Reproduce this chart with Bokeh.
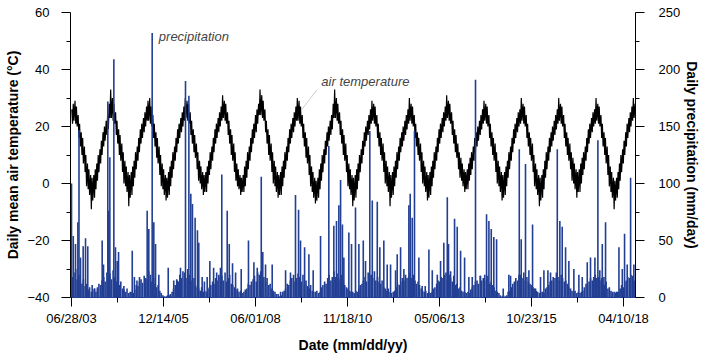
import pandas as pd
from bokeh.plotting import figure
from bokeh.models import Range1d, LinearAxis, FixedTicker, DatetimeTickFormatter, Label
from bokeh.embed import file_html
from bokeh.resources import INLINE

# ---------------- data ----------------
START = "2003-06-28"

# daily mean air temperature (degC) on the 1st, 8th, 15th and 22nd of each month; rows run Jul..Jun
temp_rows = [
    [26, 21, 28, 22, 29, 21, 27, 20, 24, 16, 21, 13, 18, 10, 16, 7, 13, 4, 10, -1, 7, -2, 5, -4,
     3, -9, 2, -6, 3, -5, 5, -2, 7, 1, 10, 4, 12, 7, 15, 10, 18, 13, 20, 15, 22, 17, 24, 19],
    [28, 23, 33, 23, 30, 22, 28, 21, 25, 17, 22, 14, 19, 10, 17, 8, 14, 4, 11, 0, 8, -1, 6, -3,
     4, -8, 3, -5, 4, -4, 6, -1, 8, 2, 11, 5, 13, 8, 16, 11, 19, 14, 21, 16, 23, 18, 25, 20],
    [27, 22, 29, 22, 30, 21, 27, 20, 24, 16, 21, 13, 18, 9, 16, 7, 13, 3, 10, -1, 7, -2, 5, -4,
     3, -6, 2, -5, 4, -4, 6, -1, 8, 2, 11, 5, 13, 8, 16, 11, 19, 14, 21, 16, 23, 18, 25, 20],
    [27, 22, 30, 23, 29, 22, 28, 21, 25, 17, 22, 14, 19, 11, 17, 9, 14, 5, 11, 1, 8, 0, 6, -2,
     4, -4, 3, -3, 4, -3, 6, 0, 8, 3, 11, 5, 13, 8, 16, 11, 19, 14, 21, 16, 23, 18, 25, 20],
    [27, 22, 31, 23, 29, 22, 28, 21, 25, 17, 22, 14, 19, 10, 17, 8, 14, 4, 11, 1, 7, -1, 5, -2,
     3, -4, 2, -3, 3, -3, 6, -1, 8, 2, 11, 5, 13, 8, 16, 11, 19, 14, 21, 16, 24, 18, 26, 21],
    [28, 24, 33, 24, 31, 23, 29, 22, 26, 18, 22, 14, 19, 10, 17, 8, 14, 4, 11, 0, 8, -1, 6, -3,
     4, -5, 3, -4, 4, -4, 6, -1, 8, 2, 11, 5, 13, 8, 16, 11, 19, 14, 21, 16, 23, 18, 25, 20],
    [27, 22, 30, 22, 29, 21, 27, 20, 24, 16, 21, 13, 18, 9, 16, 7, 13, 3, 10, -1, 6, -3, 4, -5,
     2, -7, 1, -6, 2, -5, 5, -2, 7, 1, 10, 4, 12, 7, 15, 10, 18, 13, 20, 15, 22, 17, 24, 19],
    [28, 23, 33, 23, 30, 22, 28, 21, 25, 17, 22, 14, 19, 10, 17, 8, 14, 4, 10, -1, 7, -2, 5, -4,
     3, -8, 2, -6, 3, -5, 5, -2, 7, 1, 10, 4, 12, 7, 15, 10, 18, 13, 20, 15, 22, 17, 24, 19],
    [26, 21, 29, 22, 28, 21, 27, 20, 24, 16, 21, 13, 18, 10, 16, 8, 14, 4, 11, 0, 8, -1, 6, -3,
     4, -8, 3, -5, 4, -4, 6, -1, 8, 2, 11, 5, 13, 8, 16, 11, 18, 13, 20, 15, 22, 17, 24, 19],
    [26, 21, 30, 22, 28, 21, 27, 20, 24, 16, 21, 13, 18, 10, 16, 8, 14, 4, 11, 0, 8, -1, 6, -3,
     4, -6, 3, -5, 4, -4, 6, -1, 8, 2, 11, 5, 13, 8, 16, 11, 19, 14, 21, 16, 23, 18, 25, 20],
    [27, 22, 31, 23, 29, 22, 28, 21, 25, 17, 22, 14, 19, 11, 17, 9, 14, 5, 11, 2, 9, 1, 7, -1,
     5, -3, 4, -2, 5, -2, 7, 1, 9, 3, 11, 5, 13, 8, 16, 11, 18, 13, 20, 15, 22, 17, 24, 19],
    [26, 21, 29, 22, 28, 21, 27, 20, 24, 16, 21, 13, 18, 10, 16, 8, 14, 4, 11, 0, 8, -1, 6, -3,
     4, -6, 3, -5, 4, -4, 6, -1, 8, 2, 11, 5, 13, 8, 16, 11, 19, 14, 21, 16, 23, 18, 25, 20],
    [26, 21, 30, 22, 28, 21, 27, 20, 24, 16, 21, 13, 18, 10, 16, 8, 14, 4, 10, -1, 7, -2, 5, -4,
     3, -8, 2, -6, 3, -5, 5, -2, 8, 2, 11, 5, 13, 8, 16, 11, 18, 13, 20, 15, 22, 17, 24, 19],
    [26, 21, 30, 22, 28, 21, 27, 20, 24, 16, 21, 13, 18, 10, 16, 8, 14, 5, 11, 1, 9, 0, 7, -2,
     5, -5, 4, -3, 5, -3, 7, 0, 9, 3, 11, 5, 13, 8, 16, 11, 19, 14, 21, 16, 23, 18, 25, 20],
    [26, 21, 30, 22, 28, 21, 27, 20, 24, 16, 21, 13, 18, 10, 16, 7, 13, 3, 10, -1, 6, -3, 4, -5,
     2, -9, 1, -6, 2, -5, 4, -2, 7, 1, 10, 4, 12, 7, 15, 10, 18, 13, 21, 16, 23, 18, 25, 20],
]
temp_tail = [27, 22, 30, 23, 28]

# larger precipitation events: day offset from START, mm/day
precip_day = [0, 17, 39, 62, 73, 88, 114, 137, 159, 202, 225, 254, 300, 313, 355, 365, 375, 414, 430, 447,
              460, 512, 594, 615, 640, 665, 740, 756, 789, 805, 822, 854, 946, 968, 1000, 1034, 1066, 1115,
              1148, 1167, 1183, 1209, 1232, 1245, 1278, 1300, 1327, 1353, 1390, 1420, 1457, 1470, 1523,
              1543, 1575, 1605, 1660, 1731, 1784, 1817, 1856, 1871, 1898, 1963, 2045, 2094, 2142, 2191,
              2221, 2240, 2280, 2322, 2364, 2436, 2517, 2566, 2592, 2615, 2632, 2650, 2664, 2713, 2739,
              2778, 2811, 2854, 2876, 2918, 2942, 2991, 3016, 3055, 3088, 3121, 3170, 3186, 3219, 3251,
              3300, 3313, 3333, 3355, 3398, 3430, 3460, 3496, 3529, 3578, 3610, 3642, 3676, 3688, 3708,
              3747, 3773, 3806, 3845, 3887, 3920, 3952, 4001, 4060, 4083, 4106, 4131, 4158, 4223, 4278,
              4295, 4380, 4399, 4441, 4474, 4510, 4539, 4588, 4621, 4660, 4686, 4752, 4777, 4800, 4833,
              4865, 4914, 4963, 4996, 5045, 5077, 5120, 5149, 5168, 5192, 5208, 5224, 5290, 5329, 5355,
              5388, 5410, 5436, 5469, 5501]
precip_mm = [100, 54, 47, 66, 147, 35, 45, 52, 45, 11, 8, 8, 50, 29, 172, 76, 123, 209, 44, 32,
             40, 10, 41, 18, 15, 18, 76, 60, 232, 66, 47, 20, 26, 3, 15, 15, 26, 190,
             177, 91, 82, 70, 59, 48, 18, 14, 18, 32, 26, 22, 26, 108, 76,
             47, 30, 22, 25, 50, 31, 26, 106, 40, 29, 29, 5, 24, 22, 90,
             77, 50, 44, 38, 24, 54, 133, 63, 67, 81, 103, 64, 35, 57, 47,
             79, 47, 50, 32, 146, 85, 84, 44, 50, 29, 29, 24, 38, 44, 25,
             81, 91, 70, 146, 35, 10, 10, 42, 24, 20, 32, 48, 88, 47, 23,
             69, 62, 41, 35, 18, 18, 191, 19, 73, 67, 60, 53, 51, 8, 20,
             19, 130, 51, 117, 24, 64, 8, 18, 24, 24, 22, 130, 67, 62, 44,
             32, 25, 20, 18, 31, 35, 35, 138, 24, 47, 18, 66, 3, 5, 44,
             25, 56, 29, 105, 29]

# smaller daily precipitation (mm/day) on the 8th and 22nd of each month, rows Jul..Jun
carpet_rows = [
    [18, 22, 25, 16, 20, 14, 12, 16, 10, 12, 7, 9, 5, 7, 8, 5, 9, 12, 11, 15, 18, 14, 22, 17],
    [21, 16, 24, 18, 14, 19, 11, 14, 8, 7, 5, 8, 4, 5, 5, 4, 7, 11, 10, 14, 16, 13, 19, 17],
    [16, 23, 20, 14, 17, 12, 9, 11, 6, 4, 2, 1, 1, 2, 2, 1, 5, 8, 11, 16, 14, 20, 17, 23],
    [22, 17, 25, 20, 15, 14, 17, 11, 9, 8, 6, 9, 5, 6, 5, 8, 9, 11, 14, 12, 17, 15, 20, 18],
    [19, 15, 22, 14, 17, 20, 12, 11, 9, 7, 8, 5, 6, 4, 5, 7, 8, 12, 11, 14, 16, 19, 14, 22],
    [20, 23, 15, 18, 14, 17, 11, 12, 8, 6, 5, 3, 3, 1, 2, 5, 6, 8, 12, 11, 15, 17, 20, 14],
    [17, 21, 18, 14, 20, 12, 15, 10, 8, 11, 6, 5, 5, 6, 4, 5, 9, 11, 14, 12, 17, 20, 15, 18],
    [23, 18, 21, 17, 15, 20, 14, 11, 9, 8, 6, 5, 5, 4, 6, 5, 8, 11, 12, 15, 18, 14, 22, 20],
    [20, 17, 23, 15, 18, 14, 12, 15, 9, 8, 6, 8, 5, 4, 5, 6, 9, 12, 11, 14, 17, 15, 20, 17],
    [18, 22, 17, 20, 15, 12, 14, 11, 8, 6, 5, 6, 4, 5, 4, 5, 8, 9, 12, 15, 14, 18, 17, 20],
    [22, 15, 20, 17, 14, 19, 11, 12, 8, 9, 6, 5, 5, 4, 5, 4, 7, 9, 11, 14, 15, 12, 19, 15],
    [17, 20, 15, 19, 12, 14, 11, 9, 6, 5, 4, 2, 1, 2, 1, 2, 5, 6, 9, 12, 14, 17, 15, 20],
    [20, 17, 22, 15, 18, 14, 12, 11, 9, 8, 6, 5, 4, 5, 5, 4, 8, 9, 11, 14, 15, 18, 17, 22],
    [18, 15, 20, 17, 14, 15, 12, 9, 8, 6, 5, 6, 4, 5, 4, 5, 6, 9, 12, 11, 14, 17, 15, 18],
    [20, 17, 18, 15, 17, 12, 11, 14, 8, 9, 6, 5, 5, 4, 5, 5, 8, 11, 9, 14, 15, 18, 17, 20],
]
carpet_tail = [19, 15]

tick_labels = ["06/28/03", "12/14/05", "06/01/08", "11/18/10", "05/06/13", "10/23/15", "04/10/18"]
temp_ticks = [-40, -20, 0, 20, 40, 60]
precip_ticks = [0, 50, 100, 150, 200, 250]

# ---------------- build ----------------
temp_c = [v for row in temp_rows for v in row] + temp_tail
d1 = pd.date_range("2003-07-01", "2018-08-01", freq="SMS")
d2 = pd.date_range("2003-07-01", "2018-07-15", freq="SMS") + pd.Timedelta(days=7)
temp_dates = d1.union(d2)
carpet_mm = [v for row in carpet_rows for v in row] + carpet_tail
carpet_dates = d2
event_dates = pd.Timestamp(START) + pd.to_timedelta(precip_day, unit="D")


def ms(ts):
    return (pd.Timestamp(ts) - pd.Timestamp("1970-01-01")) / pd.Timedelta(milliseconds=1)


major = [ms(pd.to_datetime(t, format="%m/%d/%y")) for t in tick_labels]
minor = [(a + b) / 2 for a, b in zip(major[:-1], major[1:])]

FONT = "Liberation Sans"
BLUE = "#223f94"

p = figure(width=705, height=359, x_axis_type="datetime",
           x_range=Range1d(ms("2003-06-18"), ms("2018-08-05")),
           y_range=Range1d(-40, 60),
           output_backend="svg", toolbar_location=None,
           min_border_left=70, min_border_right=70, min_border_top=12, min_border_bottom=62)
p.extra_y_ranges = {"precip": Range1d(0, 250)}
p.outline_line_color = None
p.xgrid.visible = False
p.ygrid.visible = False
p.background_fill_color = "white"

p.line(temp_dates, temp_c, line_color="black", line_width=1.2)
p.segment(x0=carpet_dates, y0=0, x1=carpet_dates, y1=carpet_mm, y_range_name="precip",
          line_color=BLUE, line_width=1.6)
p.segment(x0=event_dates, y0=0, x1=event_dates, y1=precip_mm, y_range_name="precip",
          line_color=BLUE, line_width=1.6)

right = LinearAxis(y_range_name="precip", ticker=FixedTicker(ticks=precip_ticks,
                   minor_ticks=[25, 75, 125, 175, 225]))
p.add_layout(right, "right")

p.yaxis[0].ticker = FixedTicker(ticks=temp_ticks, minor_ticks=[-30, -10, 10, 30, 50])
p.xaxis.ticker = FixedTicker(ticks=major, minor_ticks=minor)
fmt = "%m/%d/%y"
p.xaxis.formatter = DatetimeTickFormatter(microseconds=fmt, milliseconds=fmt, seconds=fmt, minsec=fmt,
                                          minutes=fmt, hourmin=fmt, hours=fmt, days=fmt, months=fmt,
                                          years=fmt)

p.yaxis[0].axis_label = "Daily mean air temperature (°C)"
right.axis_label = "Daily precipitation (mm/day)"
p.xaxis.axis_label = "Date (mm/dd/yy)"

for ax in [p.yaxis[0], right, p.xaxis[0]]:
    ax.axis_line_color = "black"
    ax.major_tick_line_color = "black"
    ax.minor_tick_line_color = "black"
    ax.major_tick_in = 0
    ax.minor_tick_in = 0
    ax.major_tick_out = 9
    ax.minor_tick_out = 4
    ax.major_label_text_font = FONT
    ax.major_label_text_font_size = "13px"
    ax.major_label_text_color = "black"
    ax.axis_label_text_font = FONT
    ax.axis_label_text_font_size = "14px"
    ax.axis_label_text_font_style = "bold"
    ax.axis_label_text_color = "black"

p.yaxis[0].major_label_standoff = 12
p.yaxis[0].axis_label_standoff = 3
right.major_label_standoff = 14
right.axis_label_standoff = 1

p.xaxis[0].axis_line_color = BLUE
p.xaxis[0].minor_tick_out = 5
p.xaxis[0].major_label_standoff = 4
p.xaxis[0].axis_label_standoff = 8

p.add_layout(Label(x=ms("2005-10-29"), y=51.7, text="precipitation", text_font=FONT,
                   text_font_size="13px", text_font_style="italic", text_baseline="middle"))
p.add_layout(Label(x=ms("2010-03-07"), y=35.9, text="air temperature", text_font=FONT,
                   text_font_size="13px", text_font_style="italic", text_baseline="middle"))
p.segment(x0=[ms("2010-01-23")], y0=[32.9], x1=[ms("2009-08-23")], y1=[25.7],
          line_color="#c0c0c0", line_width=0.8)

open("out.html", "w").write(file_html(p, INLINE))
